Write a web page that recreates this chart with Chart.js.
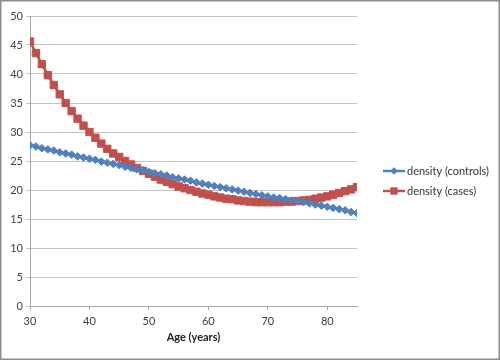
<!DOCTYPE html>
<html>
<head>
<meta charset="utf-8">
<script src="https://cdn.jsdelivr.net/npm/chart.js@4/dist/chart.umd.min.js"></script>
<style>
  body { margin: 0; background: #fff; }
  canvas { display: block; }
</style>
</head>
<body>
<canvas id="densityChart" width="500" height="360"></canvas>
<script>
// Age in years, one point per year
const ages = [30, 31, 32, 33, 34, 35, 36, 37, 38, 39,
  40, 41, 42, 43, 44, 45, 46, 47, 48, 49,
  50, 51, 52, 53, 54, 55, 56, 57, 58, 59,
  60, 61, 62, 63, 64, 65, 66, 67, 68, 69,
  70, 71, 72, 73, 74, 75, 76, 77, 78, 79,
  80, 81, 82, 83, 84, 85];

const controls = [27.7, 27.5, 27.2, 27.0, 26.8, 26.5, 26.3, 26.1, 25.8, 25.6,
  25.4, 25.2, 24.9, 24.7, 24.5, 24.3, 24.0, 23.8, 23.6, 23.4,
  23.1, 22.9, 22.7, 22.5, 22.2, 22.0, 21.8, 21.6, 21.3, 21.1,
  20.9, 20.7, 20.5, 20.3, 20.1, 19.9, 19.7, 19.5, 19.3, 19.1,
  18.9, 18.7, 18.6, 18.4, 18.2, 18.1, 17.9, 17.7, 17.5, 17.3,
  17.1, 16.9, 16.7, 16.5, 16.2, 16.0];

const cases = [45.6, 43.6, 41.7, 39.8, 38.1, 36.5, 35.0, 33.6, 32.3, 31.1,
  30.0, 29.0, 28.0, 27.1, 26.3, 25.7, 25.0, 24.4, 23.8, 23.3,
  22.8, 22.3, 21.8, 21.4, 21.0, 20.6, 20.3, 20.0, 19.7, 19.4,
  19.2, 18.9, 18.7, 18.5, 18.4, 18.2, 18.1, 18.0, 17.9, 17.9,
  17.9, 17.9, 17.9, 18.0, 18.0, 18.1, 18.2, 18.3, 18.5, 18.7,
  18.9, 19.2, 19.5, 19.8, 20.1, 20.5];

const xTicks = [30, 40, 50, 60, 70, 80];
const yMin = 0, yMax = 50, yStep = 5;

const blue = "#4f81bd";
const red = "#c0504d";
const fontFamily = "Lato, 'Open Sans', sans-serif";

function toPoints(values) {
  return ages.map((a, i) => ({ x: a, y: values[i] }));
}

// white background and grey frame like the spreadsheet chart area
const framePlugin = {
  id: "frame",
  beforeDraw(chart) {
    const ctx = chart.ctx;
    ctx.save();
    ctx.fillStyle = "#fff";
    ctx.fillRect(0, 0, chart.width, chart.height);
    ctx.restore();
  },
  afterDraw(chart) {
    const ctx = chart.ctx;
    ctx.save();
    ctx.strokeStyle = "#8c8c8c";
    ctx.lineWidth = 1.5;
    ctx.strokeRect(0.75, 0.75, chart.width - 1.5, chart.height - 1.5);
    ctx.restore();
  }
};

// legend with line + marker, drawn to the right of the plot
const sideLegend = {
  id: "sideLegend",
  afterDraw(chart) {
    const ctx = chart.ctx;
    const x0 = chart.chartArea.right + 26;
    const items = chart.data.datasets;
    ctx.save();
    ctx.font = "11px " + fontFamily;
    ctx.textBaseline = "middle";
    items.forEach((ds, i) => {
      const y = 171 + i * 20;
      ctx.strokeStyle = ds.borderColor;
      ctx.lineWidth = 2.5;
      ctx.beginPath();
      ctx.moveTo(x0, y);
      ctx.lineTo(x0 + 22, y);
      ctx.stroke();
      ctx.fillStyle = ds.borderColor;
      const cx = x0 + 11;
      ctx.beginPath();
      if (ds.pointStyle === "rectRot") {
        const r = ds.pointRadius;
        ctx.moveTo(cx, y - r);
        ctx.lineTo(cx + r, y);
        ctx.lineTo(cx, y + r);
        ctx.lineTo(cx - r, y);
        ctx.closePath();
      } else {
        const s = ds.pointRadius * Math.SQRT1_2;
        ctx.rect(cx - s, y - s, 2 * s, 2 * s);
      }
      ctx.fill();
      ctx.fillStyle = "#333";
      ctx.fillText(ds.label, x0 + 24, y);
    });
    ctx.restore();
  }
};

new Chart(document.getElementById("densityChart"), {
  type: "line",
  data: {
    datasets: [{
      label: "density (controls)",
      data: toPoints(controls),
      borderColor: blue,
      backgroundColor: blue,
      pointBackgroundColor: blue,
      pointBorderColor: blue,
      pointStyle: "rectRot",
      pointRadius: 3.8,
      pointBorderWidth: 1,
      borderWidth: 2.5,
      tension: 0
    }, {
      label: "density (cases)",
      data: toPoints(cases),
      borderColor: red,
      backgroundColor: red,
      pointBackgroundColor: red,
      pointBorderColor: red,
      pointStyle: "rect",
      pointRadius: 5.2,
      pointBorderWidth: 1,
      borderWidth: 2.5,
      tension: 0
    }]
  },
  options: {
    responsive: false,
    animation: false,
    layout: { padding: { top: 16, right: 143, bottom: 12, left: 0 } },
    plugins: {
      legend: { display: false },
      tooltip: { enabled: false }
    },
    scales: {
      x: {
        type: "linear",
        min: 30,
        max: 85,
        afterBuildTicks(scale) {
          scale.ticks = xTicks.map(v => ({ value: v }));
        },
        afterFit(scale) { scale.height = 42; },
        grid: {
          drawOnChartArea: false,
          color: "#a6a6a6",
          tickLength: 4
        },
        border: { color: "#a6a6a6", width: 1 },
        ticks: {
          color: "#404040",
          padding: 5,
          font: { family: fontFamily, size: 11 }
        },
        title: {
          display: true,
          text: "Age (years)",
          color: "#222",
          padding: { top: 2, bottom: 4 },
          font: { family: fontFamily, size: 11, weight: "bold" }
        }
      },
      y: {
        min: yMin,
        max: yMax,
        afterFit(scale) { scale.width = 30; },
        grid: {
          color: "#c4c4c4",
          tickLength: 4
        },
        border: { color: "#a6a6a6", width: 1 },
        ticks: {
          stepSize: yStep,
          color: "#404040",
          padding: 3,
          font: { family: fontFamily, size: 11 }
        }
      }
    }
  },
  plugins: [framePlugin, sideLegend]
});
</script>
</body>
</html>
